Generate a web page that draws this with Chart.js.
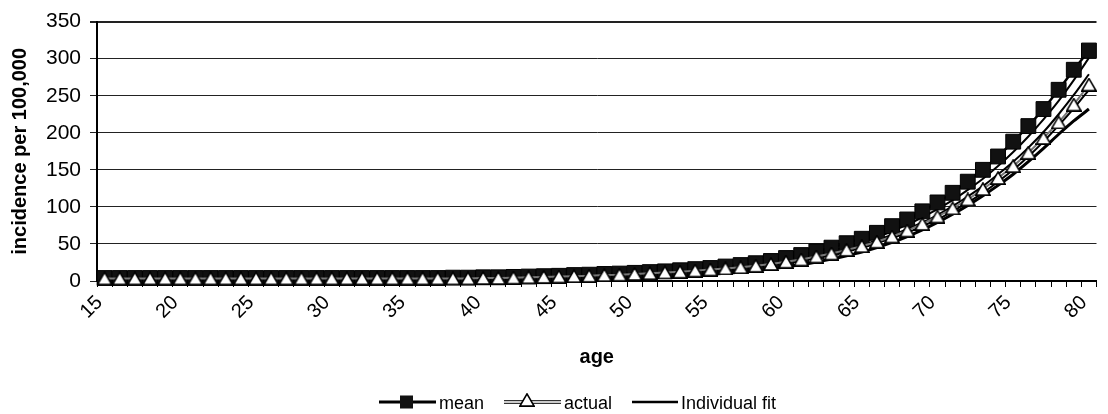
<!DOCTYPE html>
<html>
<head>
<meta charset="utf-8">
<script src="https://cdn.jsdelivr.net/npm/chart.js@4.4.1/dist/chart.umd.min.js"></script>
<style>
  html, body { margin: 0; padding: 0; background: #fff; }
  #wrap { width: 1108px; height: 414px; position: relative; }
</style>
</head>
<body>
<div id="wrap"><canvas id="c" width="1108" height="414"></canvas></div>
<script>
// ---- data ----
const ages = [15,16,17,18,19,20,21,22,23,24,25,26,27,28,29,30,31,32,33,34,35,36,37,38,39,40,
  41,42,43,44,45,46,47,48,49,50,51,52,53,54,55,56,57,58,59,60,61,62,63,64,65,66,67,68,69,70,
  71,72,73,74,75,76,77,78,79,80];

const meanValues = [4,4,4,4,4,4,4,4,4,4,4,4,4,4,4,4,4,4,4,4,4,4,4,4.5,4.5,5,
  5,5.5,6,6.5,7,8,8.5,9.5,10,11,12,13,14.5,16,17.5,19.5,21.5,24,27,31,35,40,45,51,
  57,65,74,83,94,106,119,134,150,168,188,209,232,258,285,311];

const actualValues = [3.5,3.5,3.5,3.5,3.5,3.5,3.5,3.5,3.5,3.5,3.5,3.5,3.5,3.5,3.5,3.5,3.5,3.5,3.5,3.5,3.5,3.5,3.5,3.5,3.5,4,
  4,4.5,5,5.5,6,6.5,7,8,8.5,9.5,10.5,11.5,12.5,14,15.5,17,18.5,20.5,23,26,29,33,37,42,
  47,53,60,68,77,87,98,110,124,139,155,173,193,214,238,265];

const fitA = [2,2,2,2,2,2,2,2,2,2,2,2,2,2,2,2,2,2,2,2,2,2,2,2,2,2,
  2.5,3,3,3.5,4,4.5,5,6,7,8,9,10,11.5,13,15,17,19,22,25,28,32,36,41,46,
  52,59,67,76,86,97,109,123,138,155,174,195,218,243,271,301];

const fitB = [1.5,1.5,1.5,1.5,1.5,1.5,1.5,1.5,1.5,1.5,1.5,1.5,1.5,1.5,1.5,1.5,1.5,1.5,1.5,1.5,1.5,1.5,1.5,1.5,1.5,1.5,
  2,2,2.5,3,3.5,4,4.5,5,6,7,8,9,10.5,12,13.5,15.5,17.5,20,23,26,29.5,33.5,38,43,
  48,55,62,70,79,89,101,114,128,144,161,180,201,225,251,279];

const fitC = [1,1,1,1,1,1,1,1,1,1,1,1,1,1,1,1,1,1,1,1,1,1,1,1,1,1,
  1.5,1.5,2,2.5,3,3.5,4,4.5,5,6,7,8,9,10.5,12,14,16,18,21,24,27,31,35,40,
  45,51,58,65,74,83,94,106,119,134,150,168,188,210,233,258];

const fitD = [0.5,0.5,0.5,0.5,0.5,0.5,0.5,0.5,0.5,0.5,0.5,0.5,0.5,0.5,0.5,0.5,0.5,0.5,0.5,0.5,0.5,0.5,0.5,0.5,0.5,0.5,
  1,1,1.5,1.5,2,2.5,3,3.5,4,4.5,5,6,7,8,9,10.5,12,14,16.5,19,22,25.5,29.5,34,
  39,45,52,60,69,79,90,102,115,129,144,161,179,198,216,232];

const yTicks = [0,50,100,150,200,250,300,350];
const seriesNames = ['mean', 'actual', 'Individual fit'];

// ---- styling helpers ----
Chart.defaults.font.family = '"Liberation Sans", Arial, sans-serif';
Chart.defaults.color = '#000';

function makeTriangle(w, h) {
  const c = document.createElement('canvas');
  c.width = w; c.height = h;
  const g = c.getContext('2d');
  g.beginPath();
  g.moveTo(w / 2, 0.9);
  g.lineTo(w - 0.9, h - 0.9);
  g.lineTo(0.9, h - 0.9);
  g.closePath();
  g.fillStyle = '#fff';
  g.fill();
  g.lineWidth = 1.6;
  g.strokeStyle = '#000';
  g.stroke();
  return c;
}
const triImg = makeTriangle(16, 14);

const fitStyle = (data, w) => ({
  label: seriesNames[2], data, borderColor: '#000', borderWidth: w,
  pointRadius: 0, fill: false, order: 3, clip: false, tension: 0.2
});

const legendPlugin = {
  id: 'customLegend',
  afterDraw(chart) {
    const ctx = chart.ctx;
    const y = 402;
    ctx.save();
    // mean
    ctx.strokeStyle = '#000'; ctx.lineWidth = 3;
    ctx.beginPath(); ctx.moveTo(379, y); ctx.lineTo(436, y); ctx.stroke();
    ctx.fillStyle = '#111';
    ctx.fillRect(400, y - 6.5, 13, 13);
    // actual
    ctx.strokeStyle = '#333'; ctx.lineWidth = 4;
    ctx.beginPath(); ctx.moveTo(504, y); ctx.lineTo(561, y); ctx.stroke();
    ctx.strokeStyle = '#fff'; ctx.lineWidth = 1.5;
    ctx.beginPath(); ctx.moveTo(504, y); ctx.lineTo(561, y); ctx.stroke();
    ctx.drawImage(triImg, 527 - 8, y - 9);
    // individual fit
    ctx.strokeStyle = '#000'; ctx.lineWidth = 2.5;
    ctx.beginPath(); ctx.moveTo(632, y); ctx.lineTo(678, y); ctx.stroke();
    // texts
    ctx.fillStyle = '#000';
    ctx.font = '18px "Liberation Sans", Arial, sans-serif';
    ctx.textBaseline = 'alphabetic';
    ctx.textAlign = 'left';
    ctx.fillText(seriesNames[0], 439, 409);
    ctx.fillText(seriesNames[1], 564, 409);
    ctx.fillText(seriesNames[2], 681, 409);
    ctx.restore();
  }
};

new Chart(document.getElementById('c'), {
  type: 'line',
  data: {
    labels: ages,
    datasets: [
      {
        label: seriesNames[0], data: meanValues, borderColor: '#000', borderWidth: 2.5,
        pointStyle: 'rect', pointRadius: 10.5, pointBackgroundColor: '#111',
        pointBorderColor: '#000', pointBorderWidth: 1, order: 2, clip: false
      },
      {
        label: seriesNames[1], data: actualValues, borderColor: '#777', borderWidth: 2,
        pointStyle: triImg, pointRadius: 8, order: 1, clip: false
      },
      fitStyle(fitA, 2),
      fitStyle(fitB, 2),
      fitStyle(fitC, 2),
      fitStyle(fitD, 3)
    ]
  },
  options: {
    responsive: false,
    animation: false,
    layout: { padding: { top: 21, right: 0, bottom: 45, left: 0 } },
    plugins: {
      legend: { display: false },
      tooltip: { enabled: false },
      title: { display: false }
    },
    scales: {
      x: {
        type: 'category',
        offset: true,
        grid: { display: true, drawOnChartArea: false, drawTicks: true, tickLength: 6,
                offset: true, color: '#000', lineWidth: 1 },
        border: { display: true, color: '#000', width: 2 },
        ticks: {
          autoSkip: false, maxRotation: 45, minRotation: 45, padding: 4,
          font: { size: 20 }, color: '#000', labelOffset: -5,
          callback: function (value) {
            const a = Number(this.getLabelForValue(value));
            return a % 5 === 0 ? String(a) : '';
          }
        },
        title: { display: true, text: 'age', font: { size: 20, weight: 'bold' },
                 color: '#000', padding: { top: 0, bottom: 0 } },
        afterFit(scale) { scale.height = 88; scale.paddingLeft = 0; scale.paddingRight = 0; }
      },
      y: {
        min: 0, max: 350,
        afterBuildTicks(scale) { scale.ticks = yTicks.map(v => ({ value: v })); },
        grid: { color: '#222', lineWidth: (c) => (c.tick && c.tick.value === 350 ? 2 : 1),
                drawTicks: true, tickLength: 7 },
        border: { display: true, color: '#000', width: 2 },
        ticks: { font: { size: 21 }, color: '#000', padding: 9 },
        title: { display: true, text: 'incidence per 100,000', font: { size: 20, weight: 'bold' },
                 color: '#000', padding: { top: 8, bottom: 0 } },
        afterFit(scale) { scale.width = 97; }
      }
    }
  },
  plugins: [legendPlugin]
});
</script>
</body>
</html>
